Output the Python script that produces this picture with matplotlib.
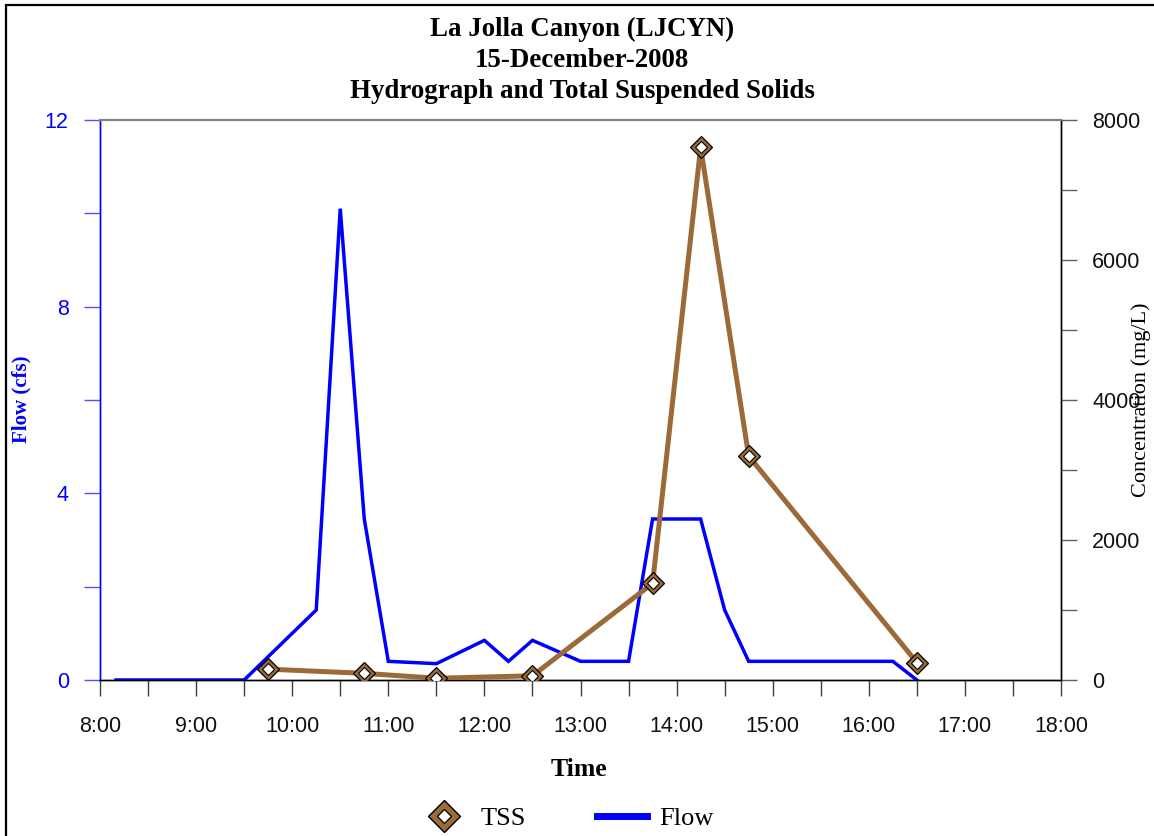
import matplotlib
matplotlib.use("Agg")
import matplotlib.pyplot as plt
from matplotlib.lines import Line2D
from matplotlib.legend_handler import HandlerTuple
from matplotlib.ticker import MultipleLocator, FixedLocator

# ---------------- data ----------------
flow_times = ["8:10", "9:30", "10:15", "10:30", "10:45", "11:00", "11:30", "12:00",
              "12:15", "12:30", "13:00", "13:30", "13:45", "14:15", "14:30", "14:45",
              "16:15", "16:30"]
flow_cfs = [0, 0, 1.5, 10.1, 3.45, 0.4, 0.35, 0.85, 0.4, 0.85, 0.4, 0.4,
            3.45, 3.45, 1.5, 0.4, 0.4, 0]

tss_times = ["9:45", "10:45", "11:30", "12:30", "13:45", "14:15", "14:45", "16:30"]
tss_mgL = [155, 95, 25, 60, 1380, 7610, 3200, 250]

x_tick_labels = ["8:00", "9:00", "10:00", "11:00", "12:00", "13:00",
                 "14:00", "15:00", "16:00", "17:00", "18:00"]
flow_ticks = [0, 4, 8, 12]
conc_ticks = [0, 2000, 4000, 6000, 8000]

title_lines = ["La Jolla Canyon (LJCYN)", "15-December-2008",
               "Hydrograph and Total Suspended Solids"]


def to_hours(s):
    h, m = s.split(":")
    return int(h) + int(m) / 60.0


W, H = 1154, 836
DPI = 100
SERIF = "Liberation Serif"
SANS = "Liberation Sans"
BLUE = "#0000FF"
BROWN = "#9C6A38"

fig = plt.figure(figsize=(W / DPI, H / DPI), dpi=DPI)
fig.patch.set_facecolor("white")

L, R, T, B = 100, 1061, 120, 680
ax = fig.add_axes([L / W, 1 - B / H, (R - L) / W, (B - T) / H])
ax2 = ax.twinx()

xf = [to_hours(t) for t in flow_times]
xt = [to_hours(t) for t in tss_times]

ax.plot(xf, flow_cfs, color=BLUE, lw=2.5, solid_joinstyle="miter", zorder=3)
ax2.plot(xt, tss_mgL, color=BROWN, lw=3.6, zorder=3)
ax2.plot(xt, tss_mgL, ls="none", marker="D", ms=11.5, mfc=BROWN, mec="black",
         mew=0.9, zorder=4)
ax2.plot(xt, tss_mgL, ls="none", marker="D", ms=6.2, mfc="white", mec="black",
         mew=0.8, zorder=5)

x_tick_pos = [to_hours(s) for s in x_tick_labels]
ax.set_xlim(8, 18)
ax.set_ylim(0, 12)
ax2.set_ylim(0, 8000)

ax.xaxis.set_major_locator(FixedLocator(x_tick_pos))
ax.set_xticklabels(x_tick_labels)
ax.xaxis.set_minor_locator(MultipleLocator(0.5))
ax.yaxis.set_major_locator(FixedLocator(flow_ticks))
ax.yaxis.set_minor_locator(MultipleLocator(2))
ax2.yaxis.set_major_locator(FixedLocator(conc_ticks))
ax2.yaxis.set_minor_locator(MultipleLocator(1000))

TL = 11.5
ax.tick_params(axis="x", which="both", direction="out", length=TL, width=1.0,
               color="#404040", labelsize=15.5, pad=14.5, labelcolor="#111111")
ax.tick_params(axis="y", which="both", direction="out", length=TL, width=1.0,
               color="#5050FF", labelsize=15.5, pad=11, labelcolor=BLUE)
ax2.tick_params(axis="y", which="both", direction="out", length=TL, width=1.0,
                color="#606060", labelsize=15.5, pad=11, labelcolor="#111111")
for lab in ax.get_xticklabels() + ax.get_yticklabels() + ax2.get_yticklabels():
    lab.set_fontfamily(SANS)

for a in (ax, ax2):
    a.spines["left"].set_color(BLUE)
    a.spines["left"].set_linewidth(1.0)
    a.spines["top"].set_color("#808080")
    a.spines["top"].set_linewidth(1.5)
    a.spines["right"].set_color("black")
    a.spines["right"].set_linewidth(1.0)
    a.spines["bottom"].set_color("black")
    a.spines["bottom"].set_linewidth(1.0)

# titles and labels
fig.text(582 / W, 1 - 17 / H, "\n".join(title_lines), ha="center", va="top",
         fontsize=19.4, fontweight="bold", family=SERIF, linespacing=1.3)
fig.text(579 / W, 1 - 769 / H, "Time", ha="center", va="center",
         fontsize=18.5, fontweight="bold", family=SERIF)
fig.text(21 / W, 1 - 399 / H, "Flow (cfs)", ha="center", va="center",
         rotation=90, fontsize=15, fontweight="bold", family=SERIF, color=BLUE)
fig.text(1141 / W, 1 - 400 / H, "Concentration (mg/L)", ha="center",
         va="center", rotation=90, fontsize=16, family=SERIF, color="black")

# legend
h_tss = (Line2D([], [], ls="none", marker="D", ms=16.3, mfc=BROWN, mec="black",
                mew=1.0),
         Line2D([], [], ls="none", marker="D", ms=7.5, mfc="white", mec="black",
                mew=0.9))
h_flow = Line2D([], [], color=BLUE, lw=5)
fig.legend([h_tss, h_flow], ["TSS", "Flow"], ncol=2, frameon=False,
           loc="center", bbox_to_anchor=(566 / W, 1 - 818 / H),
           handler_map={tuple: HandlerTuple(ndivide=1)},
           prop={"family": SERIF, "size": 19}, handlelength=1.9,
           handletextpad=0.45, columnspacing=2.7, borderaxespad=0, borderpad=0)

# outer frame (partially outside the image)
fig.add_artist(plt.Rectangle((6 / W, -0.1), 1.2, 1 - 5 / H + 0.1,
                             transform=fig.transFigure, fill=False,
                             edgecolor="black", lw=1.6, clip_on=False))

fig.savefig("out.png", dpi=DPI, facecolor="white")
